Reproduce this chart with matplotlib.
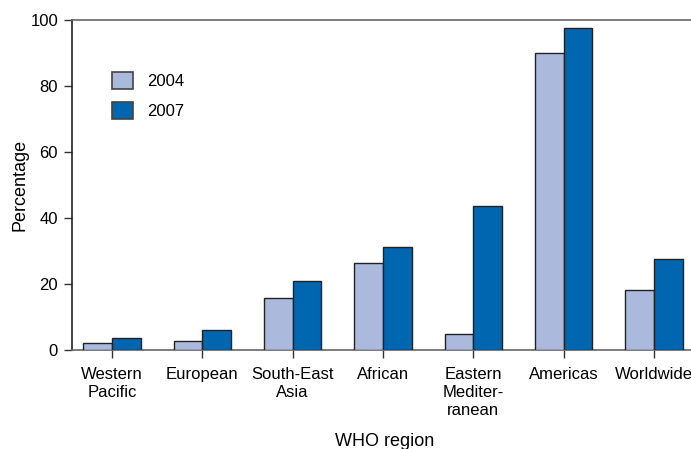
import matplotlib
matplotlib.use("Agg")
import matplotlib.pyplot as plt
import numpy as np
from matplotlib.patches import Patch

plt.rcParams['font.family'] = ['Liberation Sans', 'DejaVu Sans']

categories = ["Western\nPacific", "European", "South-East\nAsia", "African",
              "Eastern\nMediter-\nranean", "Americas", "Worldwide"]
series_names = ["2004", "2007"]
values_2004 = [2.2, 2.7, 15.8, 26.3, 5.0, 90.1, 18.1]
values_2007 = [3.7, 6.1, 20.9, 31.3, 43.6, 97.5, 27.6]
y_ticks = [0, 20, 40, 60, 80, 100]

c2004 = "#aab9dc"
c2007 = "#0066b0"

W, H = 691, 449
fig = plt.figure(figsize=(W / 100, H / 100), dpi=100)
ax = fig.add_axes([72 / W, 1 - 350 / H, (694 - 72) / W, 330 / H])

x = np.arange(len(categories))
bw = 0.316
ax.bar(x - bw / 2, values_2004, bw, color=c2004, edgecolor="#222222", linewidth=1.0, zorder=3)
ax.bar(x + bw / 2, values_2007, bw, color=c2007, edgecolor="#222222", linewidth=1.0, zorder=3)

ax.set_xlim(-0.443, 6.443)
ax.set_ylim(0, 100)
ax.set_yticks(y_ticks)
ax.set_yticklabels([str(t) for t in y_ticks], fontsize=12)
ax.set_xticks(x)
ax.set_xticklabels(categories, fontsize=12, linespacing=1.25)

ax.tick_params(axis='both', direction='out', length=6, width=1, color="#333333", pad=4)
ax.tick_params(axis='x', pad=6)

for s in ['top', 'bottom']:
    ax.spines[s].set_color("#666666")
    ax.spines[s].set_linewidth(1.2)
ax.spines['left'].set_color("#222222")
ax.spines['left'].set_linewidth(1.2)
ax.spines['right'].set_visible(False)

ax.set_ylabel("Percentage", fontsize=13)
ax.yaxis.set_label_coords(-(72 - 29) / 622, 0.5)
ax.set_xlabel("WHO region", fontsize=13)
ax.xaxis.set_label_coords((385 - 72) / 622, -(433 - 350) / 330)

handles = [Patch(facecolor=c2004, edgecolor="#444444", linewidth=1.2, label=series_names[0]),
           Patch(facecolor=c2007, edgecolor="#444444", linewidth=1.2, label=series_names[1])]
leg = ax.legend(handles=handles, loc='upper left',
                bbox_to_anchor=((112 - 72) / 622, 1 - (72 - 20) / 330),
                frameon=False, prop={'size': 12}, handlelength=1.26, handleheight=1.2,
                handletextpad=0.85, labelspacing=0.75, borderaxespad=0, borderpad=0)

fig.savefig("out.png", dpi=100)
